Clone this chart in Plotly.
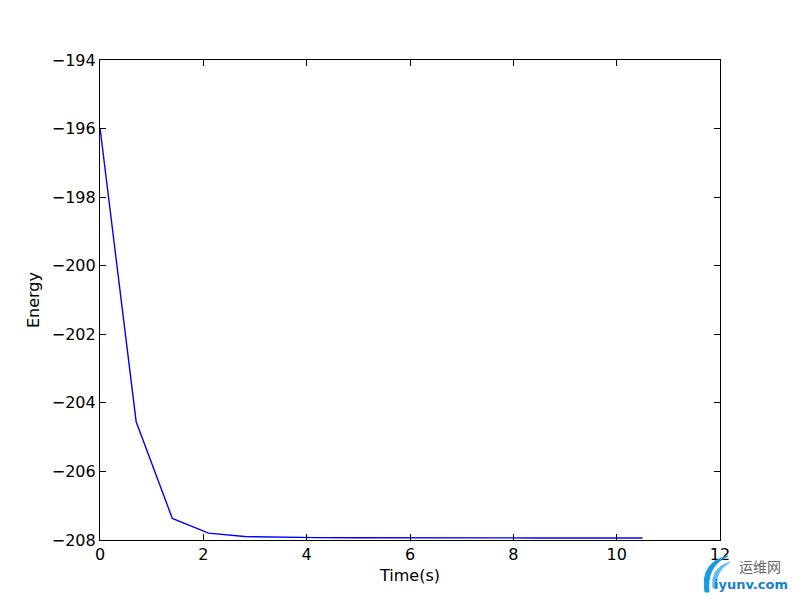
import plotly.graph_objects as go

time_s = [0.0, 0.7, 1.4, 2.1, 2.8, 3.5, 4.2, 4.9, 5.6, 6.3, 7.0, 7.7, 8.4, 9.1, 9.8, 10.5]
energy = [-195.98, -204.55, -207.37, -207.80, -207.90, -207.92, -207.93, -207.935,
          -207.94, -207.94, -207.94, -207.94, -207.94, -207.94, -207.94, -207.94]

x_ticks = [0, 2, 4, 6, 8, 10, 12]
x_tick_labels = ["0", "2", "4", "6", "8", "10", "12"]
y_ticks = [-208, -206, -204, -202, -200, -198, -196, -194]
y_tick_labels = ["\u2212208", "\u2212206", "\u2212204", "\u2212202", "\u2212200", "\u2212198", "\u2212196", "\u2212194"]

fig = go.Figure()
fig.add_trace(go.Scatter(x=time_s, y=energy, mode="lines",
                         line=dict(color="#0000ff", width=1.4), showlegend=False))

axis_common = dict(showgrid=False, zeroline=False, showline=True, linecolor="black",
                   linewidth=1.2, mirror="ticks", ticks="inside", ticklen=6,
                   tickwidth=1, tickcolor="black",
                   tickfont=dict(family="DejaVu Sans", size=16, color="black"))

fig.update_xaxes(range=[0, 12], tickvals=x_ticks, ticktext=x_tick_labels,
                 title=dict(text="Time(s)", font=dict(family="DejaVu Sans", size=16, color="black"), standoff=6),
                 **axis_common)
fig.update_yaxes(range=[-208, -194], tickvals=y_ticks, ticktext=y_tick_labels,
                 title=dict(text="Energy", font=dict(family="DejaVu Sans", size=16, color="black"), standoff=8),
                 **axis_common)

fig.update_layout(
    width=800, height=600,
    margin=dict(l=92, r=88, t=52, b=68),
    paper_bgcolor="white", plot_bgcolor="white",
)


def px(xp):
    return (xp - 100) / 620


def py(yp):
    return (540 - yp) / 480


# watermark (positions given as screen pixels of the plot area 100..720 x 60..540)
fig.add_annotation(x=px(760), y=py(566), xref="paper", yref="paper",
                   xanchor="center", yanchor="middle",
                   text="运维网", showarrow=False,
                   font=dict(family="Noto Sans CJK SC", size=14, color="#666666"))
fig.add_annotation(x=px(751), y=py(584), xref="paper", yref="paper",
                   xanchor="center", yanchor="middle",
                   text="<b>iyunv.com</b>", showarrow=False,
                   font=dict(family="DejaVu Sans", size=13, color="#1a7fc8"))
logo_path = (f"M {px(728)},{py(556)} Q {px(700)},{py(562)} {px(705)},{py(592)} "
             f"L {px(709)},{py(592)} Q {px(706)},{py(566)} {px(728)},{py(556)} Z")
fig.add_shape(type="path", xref="paper", yref="paper", path=logo_path,
              fillcolor="#1a9ae0", line=dict(color="#1a9ae0", width=1))
logo_path2 = (f"M {px(730)},{py(562)} Q {px(710)},{py(568)} {px(713)},{py(588)} "
              f"L {px(716)},{py(588)} Q {px(715)},{py(571)} {px(730)},{py(562)} Z")
fig.add_shape(type="path", xref="paper", yref="paper", path=logo_path2,
              fillcolor="#5bbcf0", line=dict(color="#5bbcf0", width=1))

fig.write_html("out.html")
